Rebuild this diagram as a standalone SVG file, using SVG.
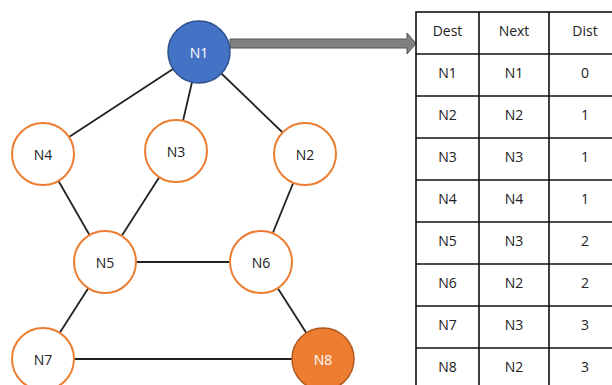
<svg xmlns="http://www.w3.org/2000/svg" width="612" height="385" viewBox="0 0 612 385">
<style>
.n{fill:#fff;stroke:#ED7D31;stroke-width:2}
.t{font-family:"Open Sans","Liberation Sans",sans-serif;font-size:14px;text-anchor:middle;dominant-baseline:central;fill:#222}
.e{stroke:#222;stroke-width:1.8}
.g{stroke:#111;stroke-width:1.6;fill:none}
.c{font-family:"Open Sans","Liberation Sans",sans-serif;font-size:14px;text-anchor:middle;dominant-baseline:central;fill:#222}
</style>
<rect width="612" height="385" fill="#fff"/>
<g id="connectors">
<line class="e" x1="199" y1="52" x2="43" y2="154"/>
<line class="e" x1="199" y1="52" x2="176" y2="151"/>
<line class="e" x1="199" y1="52" x2="305" y2="154"/>
<line class="e" x1="43" y1="154" x2="105" y2="262"/>
<line class="e" x1="176" y1="151" x2="105" y2="262"/>
<line class="e" x1="305" y1="154" x2="261" y2="262"/>
<line class="e" x1="105" y1="262" x2="261" y2="262"/>
<line class="e" x1="105" y1="262" x2="43" y2="359"/>
<line class="e" x1="261" y1="262" x2="323" y2="359"/>
<line class="e" x1="43" y1="359" x2="323" y2="359"/>
<path id="arrow" d="M230,39 H407 V33 L416,43.5 L407,54 V48 H230 Z" fill="#808080" stroke="#555" stroke-width="1"/>
</g>
<g id="N1"><circle cx="199" cy="52" r="31" fill="#4472C4" stroke="#2F528F" stroke-width="1.5"/><text class="t" x="199" y="52" style="fill:#fff">N1</text></g>
<g id="N4"><circle class="n" cx="43" cy="154" r="31"/><text class="t" x="43" y="154">N4</text></g>
<g id="N3"><circle class="n" cx="176" cy="151" r="31"/><text class="t" x="176" y="151">N3</text></g>
<g id="N2"><circle class="n" cx="305" cy="154" r="31"/><text class="t" x="305" y="154">N2</text></g>
<g id="N5"><circle class="n" cx="105" cy="262" r="31"/><text class="t" x="105" y="262">N5</text></g>
<g id="N6"><circle class="n" cx="261" cy="262" r="31"/><text class="t" x="261" y="262">N6</text></g>
<g id="N7"><circle class="n" cx="43" cy="359" r="31"/><text class="t" x="43" y="359">N7</text></g>
<g id="N8"><circle cx="323" cy="359" r="31" fill="#ED7D31" stroke="#AE5A21" stroke-width="1.5"/><text class="t" x="323" y="359" style="fill:#fff">N8</text></g>
<g id="table">
<rect class="g" x="416" y="12" width="202" height="380"/>
<line class="g" x1="479" y1="12" x2="479" y2="392"/>
<line class="g" x1="549" y1="12" x2="549" y2="392"/>
<line class="g" x1="416" y1="54" x2="618" y2="54"/>
<line class="g" x1="416" y1="96" x2="618" y2="96"/>
<line class="g" x1="416" y1="138" x2="618" y2="138"/>
<line class="g" x1="416" y1="180" x2="618" y2="180"/>
<line class="g" x1="416" y1="222" x2="618" y2="222"/>
<line class="g" x1="416" y1="264" x2="618" y2="264"/>
<line class="g" x1="416" y1="306" x2="618" y2="306"/>
<line class="g" x1="416" y1="348" x2="618" y2="348"/>
<text class="c" x="447.5" y="30">Dest</text><text class="c" x="514" y="30">Next</text><text class="c" x="585" y="30">Dist</text>
<text class="c" x="447.5" y="72">N1</text><text class="c" x="514" y="72">N1</text><text class="c" x="585" y="72">0</text>
<text class="c" x="447.5" y="114">N2</text><text class="c" x="514" y="114">N2</text><text class="c" x="585" y="114">1</text>
<text class="c" x="447.5" y="156">N3</text><text class="c" x="514" y="156">N3</text><text class="c" x="585" y="156">1</text>
<text class="c" x="447.5" y="198">N4</text><text class="c" x="514" y="198">N4</text><text class="c" x="585" y="198">1</text>
<text class="c" x="447.5" y="240">N5</text><text class="c" x="514" y="240">N3</text><text class="c" x="585" y="240">2</text>
<text class="c" x="447.5" y="282">N6</text><text class="c" x="514" y="282">N2</text><text class="c" x="585" y="282">2</text>
<text class="c" x="447.5" y="324">N7</text><text class="c" x="514" y="324">N3</text><text class="c" x="585" y="324">3</text>
<text class="c" x="447.5" y="366">N8</text><text class="c" x="514" y="366">N2</text><text class="c" x="585" y="366">3</text>
</g>
</svg>
